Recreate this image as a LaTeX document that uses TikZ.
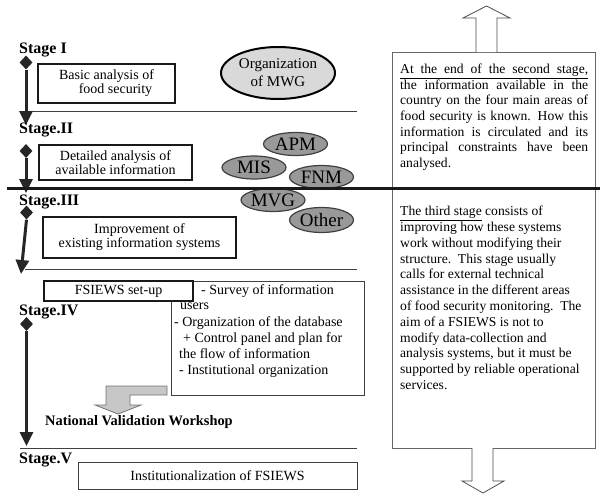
\documentclass[tikz,border=0pt]{standalone}
\usepackage{fontspec}
\setmainfont{Liberation Serif}
\usetikzlibrary{shapes.geometric,arrows.meta}
\newcommand\fjline[1]{\makebox[188pt][s]{\spaceskip=0.25em plus 1em minus 0.1em\relax #1}}
\begin{document}
\begin{tikzpicture}[x=1pt,y=-1pt,
  stagelbl/.style={anchor=base west,inner sep=0pt,font=\fontsize{16}{18}\selectfont\bfseries},
  dmd/.style={diamond,fill=black!85,inner sep=0pt,minimum width=13pt,minimum height=14pt},
  stagearrow/.style={line width=3pt,draw=black!85,-{Triangle[width=13pt,length=14pt]}},
  thickbox/.style={draw=black!90,line width=2pt,fill=white,inner sep=0pt,align=center,font=\fontsize{14}{14}\selectfont},
  thinbox/.style={draw=black!75,line width=0.9pt,fill=white,inner sep=0pt,align=center,font=\fontsize{14}{14}\selectfont},
  sepline/.style={draw=black!75,line width=0.9pt},
  bigell/.style={ellipse,draw=black,line width=2pt,fill=black!15,inner sep=0pt,align=center,font=\fontsize{15}{18}\selectfont},
  smallell/.style={ellipse,draw=black!75,line width=1.2pt,fill=black!40,inner sep=0pt,minimum width=64pt,minimum height=23pt,font=\fontsize{19}{19}\selectfont},
  listtxt/.style={anchor=base west,inner sep=0pt,font=\fontsize{14}{14}\selectfont},
  paratxt/.style={anchor=north west,inner sep=0pt,text width=205pt,align=left,font=\fontsize{13.6}{15.6}\selectfont},
  outarrow/.style={draw=black!70,line width=0.8pt,fill=white}
]
\useasboundingbox (0,0) rectangle (600,498);
\fill[white] (0,0) rectangle (600,498);

% right column box and arrows
\node[draw=black!60,line width=0.9pt,minimum width=203pt,minimum height=396pt,inner sep=0pt] (rb) at (493.5,250) {};
\draw[outarrow] (476,52) -- (476,18) -- (463,18) -- (486.5,6) -- (510,18) -- (497,18) -- (497,52);
\draw[outarrow] (472,448) -- (472,481) -- (462,481) -- (483,493) -- (504,481) -- (493,481) -- (493,448);

\node[paratxt] (p1) at (400,64) {%
\underline{\fjline{At the end of the second stage,}}\\
\fjline{the information available in the}\\
\fjline{country on the four main areas of}\\
\fjline{food security is known. How this}\\
\fjline{information is circulated and its}\\
\fjline{principal constraints have been}\\
analysed.};

\node[paratxt,font=\fontsize{13.6}{15.8}\selectfont] (p2) at (400,206) {%
\spaceskip=0.25em plus 0.1em minus 0.05em\relax
\underline{The third stage} consists of\\
improving how these systems\\
work without modifying their\\
structure. This stage usually\\
calls for external technical\\
assistance in the different areas\\
of food security monitoring. The\\
aim of a FSIEWS is not to\\
modify data-collection and\\
analysis systems, but it must be\\
supported by reliable operational\\
services.};

% separator lines
\draw[sepline] (26,111) -- (357,111);
\draw[sepline] (25,269) -- (357,269);
\draw[sepline] (20,448) -- (357,448);

% Stage I
\node[stagelbl] (s1) at (19,53) {Stage I};
\node[dmd] (d1) at (26,62.5) {};
\coordinate (t1) at (26,125);
\draw[stagearrow] (d1.south) -- (t1);
\node[thickbox,minimum width=137pt,minimum height=39pt] (b1) at (106.5,83.5) {Basic analysis of\\\hspace*{18pt}food security};
\node[bigell,minimum width=114pt,minimum height=52pt] (mwg) at (278,73) {Organization\\of MWG};

% Stage II
\node[stagelbl] (s2) at (19,133) {Stage.II};
\node[dmd] (d2) at (26,151) {};
\coordinate (t2) at (26,193);
\draw[stagearrow] (d2.south) -- (t2);
\node[thickbox,minimum width=153pt,minimum height=35pt] (b2) at (115.5,162.5) {Detailed analysis of\\available information};

% small ellipses
\node[smallell] (apm) at (295.5,144) {APM};
\node[smallell] (mis) at (254,167.5) {MIS};
\node[smallell] (fnm) at (321.5,177) {FNM};
\node[smallell] (mvg) at (273,200) {MVG};
\node[smallell,minimum height=25pt] (oth) at (321.5,220) {Other};

% thick separator
\draw[line width=3pt,black!90] (7,188) -- (600,188);

% Stage III
\node[stagelbl] (s3) at (19,205) {Stage.III};
\node[dmd] (d3) at (26.5,212.5) {};
\coordinate (t3) at (21,274);
\draw[stagearrow] (d3.south) -- (t3);
\node[thickbox,minimum width=193pt,minimum height=41pt] (b3) at (139.5,237.5) {Improvement of\\existing information systems};

% Stage IV
\node[thinbox,minimum width=193pt,minimum height=114pt] (lb) at (267.5,338) {};
\node[thickbox,line width=2.4pt,minimum width=149pt,minimum height=20pt] (b4) at (118.5,291) {FSIEWS set-up};
\node[listtxt] (l1) at (201,294) {- Survey of information};
\node[listtxt] (l2) at (180,309) {users};
\node[listtxt] (l3) at (174,326.5) {- Organization of the database};
\node[listtxt] (l4) at (183,342) {+ Control panel and plan for};
\node[listtxt] (l5) at (179,358) {the flow of information};
\node[listtxt] (l6) at (179,374) {- Institutional organization};

\node[stagelbl] (s4) at (19,315) {Stage.IV};
\node[dmd] (d4) at (26.5,324) {};
\coordinate (t4) at (26.5,446);
\draw[stagearrow] (d4.south) -- (t4);

\draw[draw=black!55,line width=0.8pt,fill=black!22] (106,386) -- (167,386) -- (167,395) -- (130,395) -- (130,405) -- (141,405) -- (118,414) -- (95,405) -- (106,405) -- cycle;
\node[anchor=base west,inner sep=0pt,font=\fontsize{14.4}{14}\selectfont\bfseries] (nvw) at (45,425) {National Validation Workshop};

% Stage V
\node[stagelbl] (s5) at (19,463) {Stage.V};
\node[thinbox,minimum width=279pt,minimum height=27pt] (b5) at (217.5,475.5) {Institutionalization of FSIEWS};
\end{tikzpicture}
\end{document}
